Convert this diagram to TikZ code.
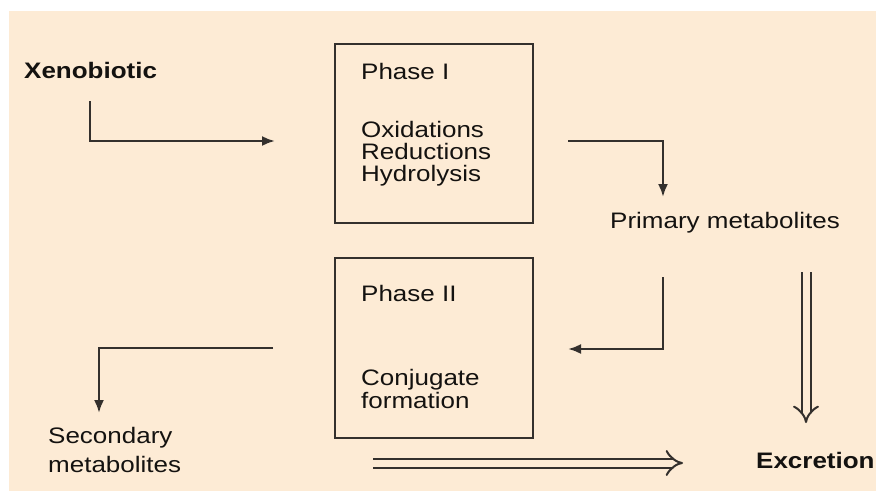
\documentclass[tikz,border=0pt]{standalone}
\usepackage{fontspec}
\setmainfont{Liberation Sans}[FakeStretch=1.16]
\usetikzlibrary{arrows.meta}
\definecolor{bgc}{RGB}{253,235,213}
\definecolor{ink}{RGB}{52,48,45}
\definecolor{txt}{RGB}{20,18,16}
\begin{document}
\begin{tikzpicture}[x=1pt,y=-1pt,
  lbl/.style={anchor=base west,inner sep=0pt,text=txt,font=\fontsize{22.4}{22}\selectfont},
  blbl/.style={lbl,font=\fontsize{22.4}{22}\selectfont\bfseries},
  phasebox/.style={draw=ink,line width=2.4pt,minimum width=198pt,inner sep=0pt},
  flow/.style={draw=ink,line width=2.3pt,-{Latex[length=13pt,width=10pt]}},
  dflow/.style={draw=ink,line width=2pt,double=bgc,double distance=7pt,-{Implies}}]
\useasboundingbox (0,0) rectangle (876,491);
\fill[bgc] (9,11) rectangle (876,491);
% boxes
\node[phasebox,minimum height=179pt] (phase1) at (434,133.5) {};
\node[phasebox,minimum height=180pt] (phase2) at (434,348) {};
% texts
\node[blbl] (xeno) at (24,78) {Xenobiotic};
\node[lbl] (p1t) at (361,79) {Phase I};
\node[lbl] (p1a) at (361,137) {Oxidations};
\node[lbl] (p1b) at (361,159) {Reductions};
\node[lbl] (p1c) at (361,181) {Hydrolysis};
\node[lbl] (p2t) at (361,301) {Phase II};
\node[lbl] (p2a) at (361,385) {Conjugate};
\node[lbl] (p2b) at (361,408) {formation};
\node[lbl] (prim) at (610,228) {Primary metabolites};
\node[lbl] (sec1) at (48,443) {Secondary};
\node[lbl] (sec2) at (48,472) {metabolites};
\node[blbl] (excr) at (756,468) {Excretion};
% connector ends
\coordinate (a1s) at (90,101);
\coordinate (a1e) at (275,141);
\coordinate (a2s) at (568,141);
\coordinate (a2e) at (663,197);
\coordinate (a3s) at (663,277);
\coordinate (a3e) at (568,349);
\coordinate (a4s) at (273,348);
\coordinate (a4e) at (99,413);
\coordinate (a5s) at (806,272);
\coordinate (a5e) at (806,423);
\coordinate (a6s) at (373,463);
\coordinate (a6e) at (683,463);
\draw[flow] (a1s) |- (a1e);
\draw[flow] (a2s) -| (a2e);
\draw[flow] (a3s) |- (a3e);
\draw[flow] (a4s) -| (a4e);
\draw[dflow] (a5s) -- (a5e);
\draw[dflow] (a6s) -- (a6e);
\end{tikzpicture}
\end{document}
